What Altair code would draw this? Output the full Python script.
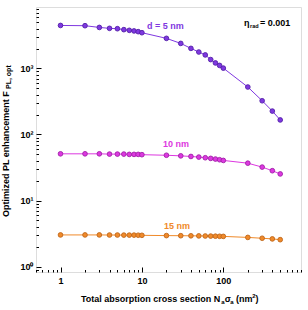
import altair as alt
import pandas as pd

# Total absorption cross section N_a*sigma_a (nm^2)
cross_section = [1, 2, 3, 4, 5, 6, 7, 8, 9, 10,
                 20, 30, 40, 50, 60, 70, 80, 90, 100,
                 200, 300, 400, 500]

# Optimized PL enhancement for each particle size
f_5nm = [4470, 4430, 4170, 4040, 3990, 3860, 3770, 3690, 3600, 3470,
         2850, 2390, 2010, 1770, 1600, 1360, 1210, 1110, 1010,
         523, 324, 226, 166]
f_10nm = [51, 51, 51, 50.5, 50.5, 50.5, 50, 50, 50, 49.5,
          48.5, 47.5, 46.5, 45.5, 44.5, 43.5, 42.5, 41.5, 40.5,
          36.8, 32.1, 28.3, 25.3]
f_15nm = [3.02, 3.02, 3.02, 3.01, 3.01, 3.0, 3.0, 3.0, 2.99, 2.98,
          2.95, 2.94, 2.93, 2.92, 2.91, 2.9, 2.89, 2.88, 2.87,
          2.77, 2.69, 2.63, 2.56]

series_names = ["d = 5 nm", "10 nm", "15 nm"]
series_colors = ["#7F38E0", "#DD38E0", "#F08A2A"]
edge_colors = ["#5420A8", "#A020A8", "#C0661A"]

x_major = [1, 10, 100]
x_minor = [0.5, 0.6, 0.7, 0.8, 0.9, 2, 3, 4, 5, 6, 7, 8, 9,
           20, 30, 40, 50, 60, 70, 80, 90, 200, 300, 400, 500, 600, 700, 800, 900]
y_major = [1, 10, 100, 1000]
y_minor = [0.9, 2, 3, 4, 5, 6, 7, 8, 9, 20, 30, 40, 50, 60, 70, 80, 90,
           200, 300, 400, 500, 600, 700, 800, 900,
           2000, 3000, 4000, 5000, 6000, 7000, 8000]

rows = []
for name, values in zip(series_names, [f_5nm, f_10nm, f_15nm]):
    for xv, yv in zip(cross_section, values):
        rows.append({"series": name, "x": xv, "y": yv})
df = pd.DataFrame(rows)

W, H = 265, 265
FONT = "Liberation Sans"

x_scale = alt.Scale(type="log", domain=[0.5, 900], nice=False)
y_scale = alt.Scale(type="log", domain=[0.83, 8500], nice=False)
color_scale = alt.Scale(domain=series_names, range=series_colors)

sup = "{'1': '10\u2070', '10': '10\u00b9', '100': '10\u00b2', '1000': '10\u00b3'}[format(datum.value, 'd')]"

# Major ticks (with labels) drawn inward from the frame
lines = alt.Chart(df).mark_line(strokeWidth=1).encode(
    x=alt.X("x:Q", scale=x_scale,
            axis=alt.Axis(values=x_major, orient="bottom", offset=-5, tickSize=5,
                          domain=False, grid=False, tickColor="#000",
                          labelFont=FONT, labelFontSize=9, labelFontWeight="bold",
                          labelColor="#000", labelPadding=4, labelFlush=False,
                          format="d", title="")),
    y=alt.Y("y:Q", scale=y_scale,
            axis=alt.Axis(values=y_major, orient="left", offset=-5, tickSize=5,
                          domain=False, grid=False, tickColor="#000",
                          labelFont=FONT, labelFontSize=9, labelFontWeight="bold",
                          labelColor="#000", labelPadding=3, labelExpr=sup,
                          title="")),
    color=alt.Color("series:N", scale=color_scale, legend=None),
    detail="series:N",
)

# Minor ticks ride on the marker layer
points = alt.Chart(df).mark_point(filled=True, size=22, strokeWidth=0.9, opacity=1).encode(
    x=alt.X("x:Q", scale=x_scale,
            axis=alt.Axis(values=x_minor, orient="bottom", offset=-2.5, tickSize=2.5,
                          domain=False, grid=False, labels=False, tickColor="#000",
                          title="")),
    y=alt.Y("y:Q", scale=y_scale,
            axis=alt.Axis(values=y_minor, orient="left", offset=-2.5, tickSize=2.5,
                          domain=False, grid=False, labels=False, tickColor="#000",
                          title="")),
    color=alt.Color("series:N", scale=color_scale, legend=None),
    stroke=alt.Stroke("series:N",
                      scale=alt.Scale(domain=series_names, range=edge_colors),
                      legend=None),
)


def label(text, x, y, color="#000", size=9, angle=0, align="left"):
    return alt.Chart(pd.DataFrame({"t": [text]})).mark_text(
        font=FONT, fontSize=size, fontWeight="bold", color=color,
        align=align, baseline="middle", angle=angle,
    ).encode(text="t:N", x=alt.value(x), y=alt.value(y))


annotations = [
    label("d = 5 nm", 111, 18.5, series_colors[0]),
    label("10 nm", 127, 137, series_colors[1]),
    label("15 nm", 128, 218.5, series_colors[2]),
    label("\u03b7", 208, 16),
    label("rad", 214, 19, size=5.5),
    label("= 0.001", 224, 16),
    # y-axis title with subscript
    label("Optimized PL enhancement F", -30, 210, angle=270),
    label("PL, opt", -27.5, 82, size=7, angle=270),
    # x-axis title with subscripts and superscript
    label("Total absorption cross section N", 45, 292),
    label("a", 185.2, 294.5, size=6),
    label("\u03c3", 188.8, 292),
    label("a", 194.3, 294.5, size=6),
    label("(nm", 200, 292),
    label("2", 216.2, 289, size=6),
    label(")", 219.6, 292),
]

chart = alt.layer(lines, points, *annotations).resolve_scale(
    x="independent", y="independent"
).resolve_axis(
    x="independent", y="independent"
).properties(
    width=W, height=H,
    autosize=alt.AutoSizeParams(type="none"),
    padding={"left": 36, "top": 7, "right": 7, "bottom": 38},
).configure_view(
    stroke="#333", strokeWidth=1.3
).configure(background="white")

chart.save("out.html", embed_options={"renderer": "svg", "actions": False})
